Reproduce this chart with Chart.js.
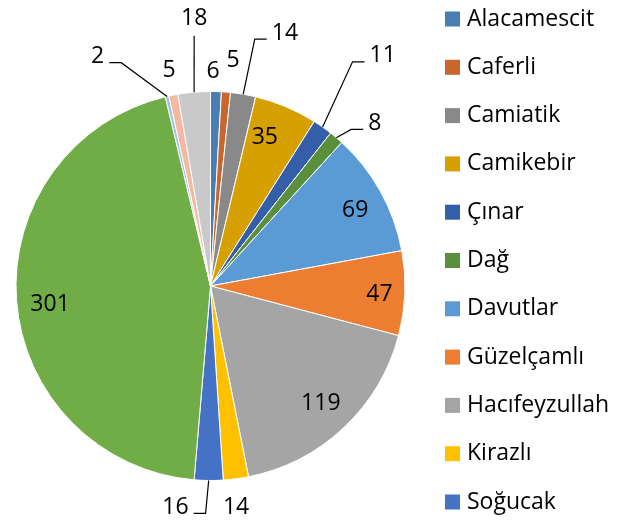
<!DOCTYPE html>
<html>
<head>
<meta charset="utf-8">
<script src="https://cdn.jsdelivr.net/npm/chart.js@4/dist/chart.umd.min.js"></script>
<style>
  html, body { margin: 0; padding: 0; background: #fff; }
</style>
</head>
<body>
<canvas id="myChart" width="617" height="522"></canvas>
<script>
// data
const neighbourhoods = [
  "Alacamescit", "Caferli", "Camiatik", "Camikebir", "Çınar", "Dağ",
  "Davutlar", "Güzelçamlı", "Hacıfeyzullah", "Kirazlı", "Soğucak",
  "Türkmen", "Yavansu", "Yaylaköy", "Yeniköy",
];
const counts = [6, 5, 14, 35, 11, 8, 69, 47, 119, 14, 16, 301, 2, 5, 18];

// styling
const sliceColors = [
  "#497EB2", "#C8662C", "#898989", "#D6A000", "#355EA8", "#5A903C",
  "#5B9BD5", "#ED7D31", "#A5A5A5", "#FFC000", "#4472C4", "#70AD47",
  "#9DC3E6", "#F4B9A0", "#C9C9C9",
];
const legendShown = 11; // the rest of the legend is cut off in the original
const FONT = "'Open Sans', sans-serif";

// where each value label sits: [angle from 12 o'clock in degrees, distance / radius, leader]
// leader: "r" = line comes in from the left, "l" = from the right, "v" = straight down
const labelPlacement = [
  [0.7, 1.105, null],
  [5.7, 1.165, null],
  [16.4, 1.355, "r"],
  [20.1, 0.813, null],
  [36.8, 1.478, "r"],
  [45.3, 1.188, "r"],
  [62.3, 0.84, null],
  [92.9, 0.87, null],
  [136.9, 0.83, null],
  [173.4, 1.146, null],
  [189.0, 1.152, "l"],
  [263.6, 0.83, null],
  [333.8, 1.314, "l"],
  [349.1, 1.128, null],
  [356.5, 1.377, "v"],
];

const valueLabels = {
  id: "valueLabels",
  afterDatasetsDraw(chart) {
    const ctx = chart.ctx;
    const arcs = chart.getDatasetMeta(0).data;
    const cx = arcs[0].x, cy = arcs[0].y, R = arcs[0].outerRadius;
    ctx.save();
    ctx.font = "23px " + FONT;
    ctx.textAlign = "center";
    ctx.textBaseline = "middle";
    ctx.strokeStyle = "#000";
    ctx.lineWidth = 1.2;
    arcs.forEach((arc, i) => {
      const [deg, share, leader] = labelPlacement[i];
      const a = (deg - 90) * Math.PI / 180;
      const x = cx + R * share * Math.cos(a);
      const y = cy + R * share * Math.sin(a);
      const text = String(counts[i]);
      const w = ctx.measureText(text).width;
      if (leader) {
        const mid = (arc.startAngle + arc.endAngle) / 2;
        const ax = cx + R * Math.cos(mid), ay = cy + R * Math.sin(mid);
        ctx.beginPath();
        if (leader === "v") {
          ctx.moveTo(x, y + 17);
          ctx.lineTo(ax, ay);
        } else {
          const ly = y + 6;
          const sign = leader === "r" ? -1 : 1;
          const edge = x + sign * w / 2;
          ctx.moveTo(edge + sign * 5, ly);
          ctx.lineTo(edge + sign * 17, ly);
          ctx.lineTo(ax, ay);
        }
        ctx.stroke();
      }
      ctx.fillStyle = "#000";
      ctx.fillText(text, x, y);
    });
    ctx.restore();
  },
};

const sideLegend = {
  id: "sideLegend",
  afterDraw(chart) {
    const ctx = chart.ctx;
    ctx.save();
    ctx.font = "23px " + FONT;
    ctx.textAlign = "left";
    ctx.textBaseline = "middle";
    for (let i = 0; i < legendShown; i++) {
      const y = 19 + i * 48.3;
      ctx.fillStyle = sliceColors[i];
      ctx.fillRect(445, y - 7.5, 15, 15);
      ctx.fillStyle = "#000";
      ctx.fillText(neighbourhoods[i], 467, y);
    }
    ctx.restore();
  },
};

new Chart(document.getElementById("myChart"), {
  type: "pie",
  data: {
    labels: neighbourhoods,
    datasets: [
      {
        data: counts,
        backgroundColor: sliceColors,
        borderColor: "#ffffff",
        borderWidth: 1,
      },
    ],
  },
  options: {
    responsive: false,
    animation: false,
    layout: {
      padding: { left: 15, right: 211, top: 91, bottom: 41 },
    },
    plugins: {
      legend: { display: false },
      tooltip: { enabled: false },
    },
  },
  plugins: [valueLabels, sideLegend],
});
</script>
</body>
</html>
